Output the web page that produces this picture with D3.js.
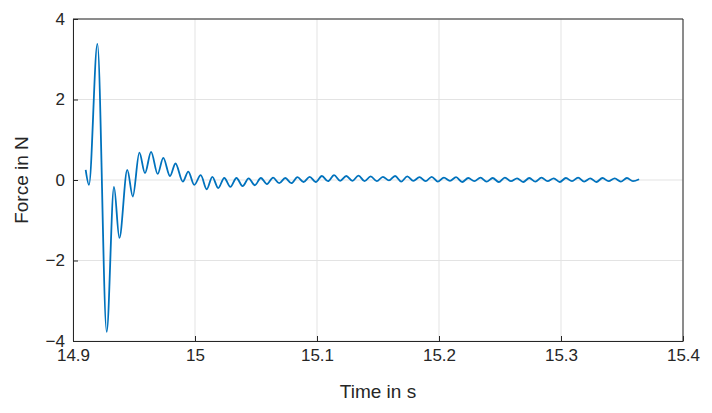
<!DOCTYPE html>
<html><head><meta charset="utf-8">
<script src="https://cdn.jsdelivr.net/npm/d3@7"></script>
<style>body{margin:0;background:#fff}text{font-family:"Liberation Sans",Arial,sans-serif}</style>
</head><body><svg id="c" width="712" height="413"></svg>
<script>
const xTicks=[14.9,15,15.1,15.2,15.3,15.4];
const yTicks=[-4,-2,0,2,4];
const timeS=[14.9104,14.9131,14.920,14.9276,14.9336,14.938,14.9445,14.949,14.9544,14.959,14.964,14.9694,14.974,14.9795,14.984,14.99,14.9945,14.9994,15.0047,15.0096,15.0142,15.019,15.024,15.029,15.034,15.039,15.044,15.049,15.054,15.059,15.064,15.069,15.074,15.079,15.084,15.089,15.094,15.099,15.104,15.109,15.114,15.119,15.124,15.129,15.134,15.139,15.144,15.149,15.154,15.159,15.164,15.169,15.174,15.179,15.184,15.189,15.194,15.199,15.204,15.209,15.214,15.219,15.224,15.229,15.234,15.239,15.244,15.249,15.254,15.259,15.264,15.269,15.274,15.279,15.284,15.289,15.294,15.299,15.304,15.309,15.314,15.319,15.324,15.329,15.334,15.339,15.344,15.349,15.354,15.359,15.364];
const forceN=[0.25,-0.12,3.38,-3.77,-0.17,-1.44,0.25,-0.41,0.68,0.17,0.70,0.15,0.55,0.10,0.41,-0.04,0.21,-0.12,0.12,-0.23,0.08,-0.20,0.05,-0.17,0.05,-0.15,0.04,-0.13,0.05,-0.10,0.06,-0.08,0.05,-0.08,0.07,-0.05,0.08,-0.05,0.10,-0.03,0.12,-0.02,0.10,-0.02,0.11,-0.03,0.09,-0.03,0.08,-0.01,0.10,-0.04,0.09,-0.02,0.07,-0.03,0.08,-0.04,0.06,-0.02,0.07,-0.05,0.05,-0.03,0.06,-0.04,0.05,-0.05,0.06,-0.03,0.04,-0.05,0.05,-0.04,0.06,-0.03,0.04,-0.05,0.05,-0.03,0.06,-0.04,0.04,-0.05,0.05,-0.03,0.04,-0.04,0.05,-0.03,0.02];
const svg=d3.select("#c");
const L=73,R=683,T=19,B=341;
const x=d3.scaleLinear().domain([14.9,15.4]).range([L,R]);
const y=d3.scaleLinear().domain([-4,4]).range([B,T]);
const g=svg.append("g");
g.selectAll(".gx").data(xTicks).join("line").attr("x1",d=>x(d)).attr("x2",d=>x(d)).attr("y1",T).attr("y2",B).attr("stroke","#e3e3e3");
g.selectAll(".gy").data(yTicks).join("line").attr("y1",d=>y(d)).attr("y2",d=>y(d)).attr("x1",L).attr("x2",R).attr("stroke","#e3e3e3");
const xa=svg.append("g").attr("transform",`translate(0,${B})`).call(d3.axisBottom(x).tickValues(xTicks).tickFormat(d3.format("")).tickSizeInner(-5).tickSizeOuter(0).tickPadding(8));
const ya=svg.append("g").attr("transform",`translate(${L},0)`).call(d3.axisLeft(y).tickValues(yTicks).tickFormat(d=>d<0?"\u2212"+(-d):d).tickSizeInner(-5).tickSizeOuter(0).tickPadding(8));
[xa,ya].forEach(a=>{a.selectAll("text").attr("font-size",17).attr("fill","#262626");a.selectAll("line,path").attr("stroke","#262626");});
svg.append("line").attr("x1",L).attr("x2",R).attr("y1",T).attr("y2",T).attr("stroke","#262626");
svg.append("line").attr("x1",R).attr("x2",R).attr("y1",T).attr("y2",B).attr("stroke","#262626");
const data=timeS.map((t,i)=>[t,forceN[i]]);
svg.append("path").datum(data).attr("fill","none").attr("stroke","#0072bd").attr("stroke-width",1.8)
 .attr("d",d3.line().x(d=>x(d[0])).y(d=>y(d[1])).curve(d3.curveMonotoneX));
svg.append("text").attr("x",(L+R)/2).attr("y",398).attr("text-anchor","middle").attr("font-size",19).attr("fill","#262626").text("Time in s");
svg.append("text").attr("transform",`translate(28,${(T+B)/2}) rotate(-90)`).attr("text-anchor","middle").attr("font-size",19).attr("fill","#262626").text("Force in N");
</script></body></html>
